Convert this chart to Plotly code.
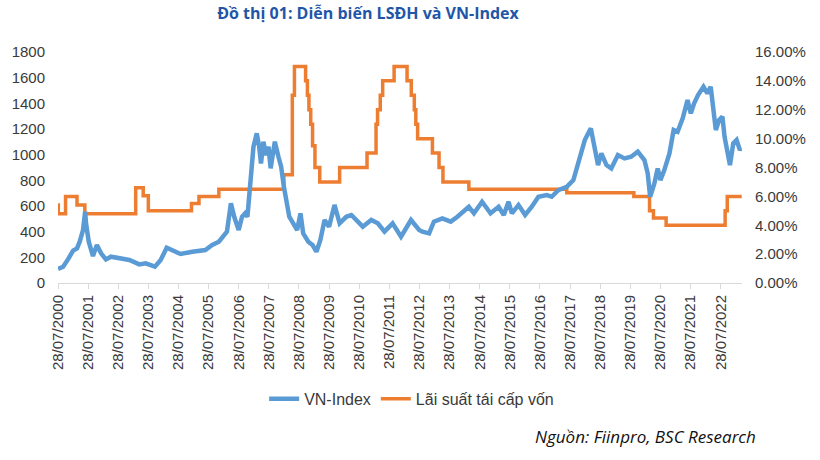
import datetime as dt
import plotly.graph_objects as go

# ---- data ----
# VN-Index: decimal year, index value
vn_year = [2000.57, 2000.74, 2000.90, 2001.07, 2001.20, 2001.29, 2001.40, 2001.47, 2001.50, 2001.59,
           2001.73, 2001.86, 2002.00, 2002.16, 2002.33, 2002.61, 2002.94, 2003.27, 2003.48, 2003.79,
           2003.98, 2004.18, 2004.37, 2004.64, 2005.03, 2005.46, 2005.69, 2005.91,
           2006.18, 2006.31, 2006.42, 2006.57, 2006.68, 2006.78, 2006.86, 2006.95, 2007.06, 2007.17,
           2007.25, 2007.31, 2007.39, 2007.48, 2007.56, 2007.63, 2007.77, 2007.89, 2007.98, 2008.07,
           2008.16, 2008.25, 2008.38, 2008.51, 2008.62, 2008.71, 2008.88, 2009.02, 2009.15, 2009.28,
           2009.42, 2009.57, 2009.75, 2009.92, 2010.14, 2010.31,
           2010.69, 2010.97, 2011.19, 2011.41,
           2011.68, 2011.96, 2012.29, 2012.56, 2012.67, 2012.89, 2013.05, 2013.33, 2013.61, 2013.83,
           2014.21, 2014.38, 2014.65, 2014.93, 2015.20, 2015.37, 2015.53, 2015.64, 2015.86, 2016.08,
           2016.30, 2016.52, 2016.80, 2016.96, 2017.18, 2017.46, 2017.68, 2017.84, 2018.06, 2018.26,
           2018.39, 2018.50, 2018.61, 2018.78, 2018.94, 2019.16, 2019.38, 2019.60, 2019.82, 2020.04,
           2020.15, 2020.23,
           2020.37, 2020.48, 2020.57, 2020.70, 2020.87, 2021.01, 2021.14, 2021.31, 2021.47, 2021.58,
           2021.69, 2021.82, 2022.00, 2022.13, 2022.24, 2022.33, 2022.41, 2022.52, 2022.63, 2022.70,
           2022.79, 2022.88, 2022.99, 2023.10, 2023.21, 2023.25]
vn_value = [109, 127, 184, 252, 270, 322, 413, 555, 465, 322,
            210, 296, 231, 184, 205, 192, 179, 145, 153, 127,
            179, 275, 257, 226, 244, 257, 296, 322,
            400, 621, 516, 413, 516, 543, 516, 802, 1062, 1166,
            1062, 932, 1101, 997, 1062, 893, 1101, 984, 906, 750,
            647, 516, 465, 413, 543, 387, 322, 296, 244, 335,
            491, 439, 608, 465, 516, 530,
            439, 491, 465, 400,
            465, 361, 491, 413, 400, 387, 478, 504, 478, 516,
            594, 543, 633, 543, 594, 530, 633, 543, 608, 530,
            594, 672, 685, 672, 724, 750, 802, 932, 1114, 1205,
            1036, 919, 1010, 919, 893, 997, 971, 984, 1023, 958,
            855, 672,
            776, 893, 802, 880, 1010, 1192, 1179, 1283, 1426, 1322,
            1400, 1465, 1529, 1478, 1529, 1348, 1192, 1270, 1296, 1140,
            1010, 919, 1088, 1114, 1036, 1049]

# Refinancing rate (%): decimal year of change, new rate
rate_year = [2000.57, 2000.58, 2000.82, 2001.20, 2001.46, 2003.15, 2003.40, 2003.57, 2005.00, 2005.25,
             2005.91, 2008.07, 2008.35, 2008.42, 2008.79, 2008.85, 2008.90, 2008.96, 2009.02, 2009.10,
             2009.26, 2009.92, 2010.83, 2011.13, 2011.18, 2011.27, 2011.35, 2011.73, 2012.16, 2012.30,
             2012.40, 2012.45, 2012.51, 2013.00, 2013.22, 2013.35, 2014.21, 2017.46, 2019.69, 2020.21,
             2020.34, 2020.76, 2022.72, 2022.79, 2023.27]
rate_pct = [5.4, 4.8, 6.0, 5.4, 4.8, 6.6, 6.05, 5.0, 5.5, 6.0,
            6.5, 7.5, 13.0, 15.0, 14.0, 13.0, 12.0, 11.0, 9.5, 8.0,
            7.0, 8.0, 9.0, 11.0, 12.0, 13.0, 14.0, 15.0, 14.0, 13.0,
            12.0, 11.0, 10.0, 9.0, 8.0, 7.0, 6.5, 6.25, 6.0, 5.0,
            4.5, 4.0, 5.0, 6.0, 6.0]

tick_years = list(range(2000, 2023))
left_ticks = list(range(0, 1801, 200))
right_ticks = [i / 100 for i in range(0, 17, 2)]


def to_date(y):
    yr = int(y)
    start = dt.datetime(yr, 1, 1)
    days = (dt.datetime(yr + 1, 1, 1) - start).days
    return start + dt.timedelta(days=(y - yr) * days)


vn_dates = [to_date(y) for y in vn_year]
rate_dates = [to_date(y) for y in rate_year]
rate_frac = [v / 100 for v in rate_pct]

BLUE = "#5b9bd5"
ORANGE = "#ed7d31"
TXT = "#3a3a3a"
FONT = "Liberation Sans, Arial, sans-serif"

W, H = 820, 460

fig = go.Figure()
fig.add_trace(go.Scatter(x=rate_dates, y=rate_frac, mode="lines", line_shape="hv",
                         line=dict(color=ORANGE, width=3.5), name="Lãi suất tái cấp vốn",
                         yaxis="y", legendrank=2))
fig.add_trace(go.Scatter(x=vn_dates, y=vn_value, mode="lines",
                         line=dict(color=BLUE, width=4.5), name="VN-Index",
                         yaxis="y2", legendrank=1))

fig.update_layout(
    width=W, height=H,
    margin=dict(l=55, r=78, t=52, b=177),
    paper_bgcolor="white", plot_bgcolor="white",
    font=dict(family=FONT, size=15, color=TXT),
    title=dict(text="<b>Đồ thị 01: Diễn biến LSĐH và VN-Index</b>",
               x=368 / W, xanchor="center", y=1 - 13 / H, yanchor="middle",
               font=dict(family="Open Sans, sans-serif", size=16, color="#1f56a8")),
    xaxis=dict(type="date", range=[to_date(2000.57), to_date(2023.28)],
               tickvals=[dt.datetime(y, 7, 28) for y in tick_years],
               ticktext=[f"28/07/{y}" for y in tick_years],
               tickangle=-90, showgrid=False, zeroline=False,
               showline=True, linecolor="#d9d9d9", linewidth=1,
               ticks="outside", ticklen=5, tickcolor="#d9d9d9",
               tickfont=dict(size=15, color=TXT)),
    yaxis=dict(side="right", range=[0, 0.16], tickvals=right_ticks, tickformat=".2%",
               showgrid=False, zeroline=False, showline=False,
               ticklabelstandoff=12, tickfont=dict(size=15, color=TXT)),
    yaxis2=dict(side="left", overlaying="y", range=[0, 1800], tickvals=left_ticks,
                showgrid=False, zeroline=False, showline=False,
                ticklabelstandoff=12, tickfont=dict(size=15, color=TXT)),
    legend=dict(orientation="h", x=0.517, xanchor="center", y=-0.428, yanchor="top",
                font=dict(size=16, color=TXT), bgcolor="rgba(0,0,0,0)", tracegroupgap=0),
    showlegend=True,
)

fig.add_annotation(text="<i>Nguồn: Fiinpro, BSC Research</i>", xref="paper", yref="paper",
                   x=(758 - 55) / 687, xanchor="right", y=-(437 - 283) / 231, yanchor="middle",
                   showarrow=False, font=dict(family="Open Sans, sans-serif", size=17, color="#111111"))

# remove the default 8px page margin so the figure sits at the window's top-left corner
fig.write_html("out.html", config={"displayModeBar": False},
               post_script="document.body.style.margin='0';document.body.style.overflow='hidden';")
